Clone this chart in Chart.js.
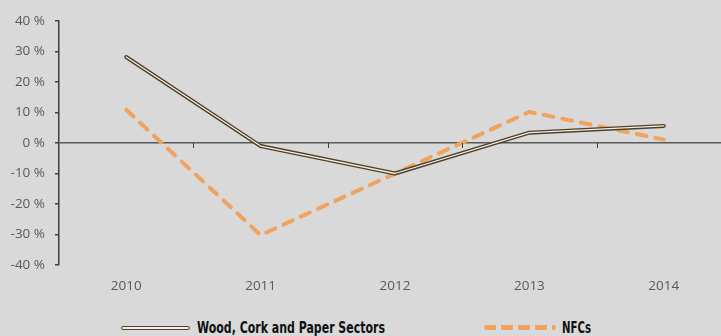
<!DOCTYPE html>
<html>
<head>
<meta charset="utf-8">
<script src="https://cdn.jsdelivr.net/npm/chart.js@4/dist/chart.umd.min.js"></script>
<style>
  html, body { margin: 0; padding: 0; background: #d9d9d9; overflow: hidden; width: 721px; height: 336px; }
  #wrap { position: absolute; left: 0; top: 0; width: 740px; height: 300px; }
  .legend { position: absolute; top: 319px; font-family: "DejaVu Sans", sans-serif; font-stretch: condensed; font-weight: bold; font-size: 15.5px; color: #111; white-space: nowrap; transform-origin: 0 50%; }
  .swatch { position: absolute; }
  .double { left: 121px; top: 326px; width: 67px; height: 2px; border: 1.5px solid #4d3f2a; border-radius: 2px; background: #f4efe2; }
  .dashed { left: 484px; top: 325px; width: 72px; height: 5px;
    background: repeating-linear-gradient(90deg, #f0a35e 0 12px, transparent 12px 17px); border-radius: 3px; }
</style>
</head>
<body>
<div id="wrap"><canvas id="chart"></canvas></div>
<div class="swatch double"></div>
<div class="legend" id="lgWood" style="left:197px">Wood, Cork and Paper Sectors</div>
<div class="swatch dashed"></div>
<div class="legend" id="lgNfc" style="left:562px">NFCs</div>
<script>
const years = ['2010', '2011', '2012', '2013', '2014'];
const woodCorkPaper = [28.2, -1.0, -10.0, 3.4, 5.6];
const nfcs = [10.9, -30.2, -10.0, 10.2, 1.1];
const yTicks = [-40, -30, -20, -10, 0, 10, 20, 30, 40];

// squeeze the legend captions to a narrow bold face
function fitWidth(id, w) {
  const el = document.getElementById(id);
  el.style.transform = 'scaleX(' + (w / el.getBoundingClientRect().width) + ')';
}
fitWidth('lgWood', 188);
fitWidth('lgNfc', 29);

// little tick marks on the zero line between the years
const categoryTicks = {
  id: 'categoryTicks',
  afterDatasetsDraw(chart) {
    const { ctx, scales: { x, y } } = chart;
    const y0 = y.getPixelForValue(0);
    ctx.save();
    ctx.strokeStyle = '#404040';
    ctx.lineWidth = 1;
    for (let i = 1; i < years.length; i++) {
      const px = Math.round((x.getPixelForValue(i - 1) + x.getPixelForValue(i)) / 2) + 0.5;
      ctx.beginPath();
      ctx.moveTo(px, y0);
      ctx.lineTo(px, y0 + 5);
      ctx.stroke();
    }
    ctx.restore();
  }
};

new Chart(document.getElementById('chart'), {
  type: 'line',
  data: {
    labels: years,
    datasets: [
      {
        label: 'NFCs',
        data: nfcs,
        borderColor: '#f0a35e',
        borderWidth: 4,
        borderDash: [10, 9],
        borderCapStyle: 'round',
        pointRadius: 0,
        tension: 0,
        order: 3
      },
      {
        label: 'Wood, Cork and Paper Sectors',
        data: woodCorkPaper,
        borderColor: '#4d3f2a',
        borderWidth: 4,
        borderJoinStyle: 'round',
        borderCapStyle: 'round',
        pointRadius: 0,
        tension: 0,
        order: 2
      },
      {
        label: 'inner',
        data: woodCorkPaper,
        borderColor: '#f4efe2',
        borderWidth: 1.3,
        borderJoinStyle: 'round',
        borderCapStyle: 'round',
        pointRadius: 0,
        tension: 0,
        order: 1
      }
    ]
  },
  options: {
    responsive: true,
    maintainAspectRatio: false,
    animation: false,
    layout: { padding: { top: 21, right: 9, left: 0, bottom: 0 } },
    plugins: { legend: { display: false }, tooltip: { enabled: false } },
    scales: {
      x: {
        offset: true,
        grid: { display: false },
        border: { display: false },
        ticks: { color: '#595959', font: { family: 'Open Sans', size: 13.5 }, padding: 5 },
        afterFit(scale) { scale.height = 35; }
      },
      y: {
        min: -40,
        max: 40,
        afterBuildTicks(scale) { scale.ticks = yTicks.map(v => ({ value: v })); },
        afterFit(scale) { scale.width = 59; },
        border: { display: true, color: '#404040', width: 1.5 },
        grid: {
          color: c => c.tick && c.tick.value === 0 ? '#595959' : 'rgba(0,0,0,0)',
          lineWidth: 1.5,
          tickColor: '#404040',
          tickLength: 4
        },
        ticks: {
          color: '#595959',
          font: { family: 'Open Sans', size: 13.5 },
          padding: 10,
          callback: v => v + ' %'
        }
      }
    }
  },
  plugins: [categoryTicks]
});
</script>
</body>
</html>
